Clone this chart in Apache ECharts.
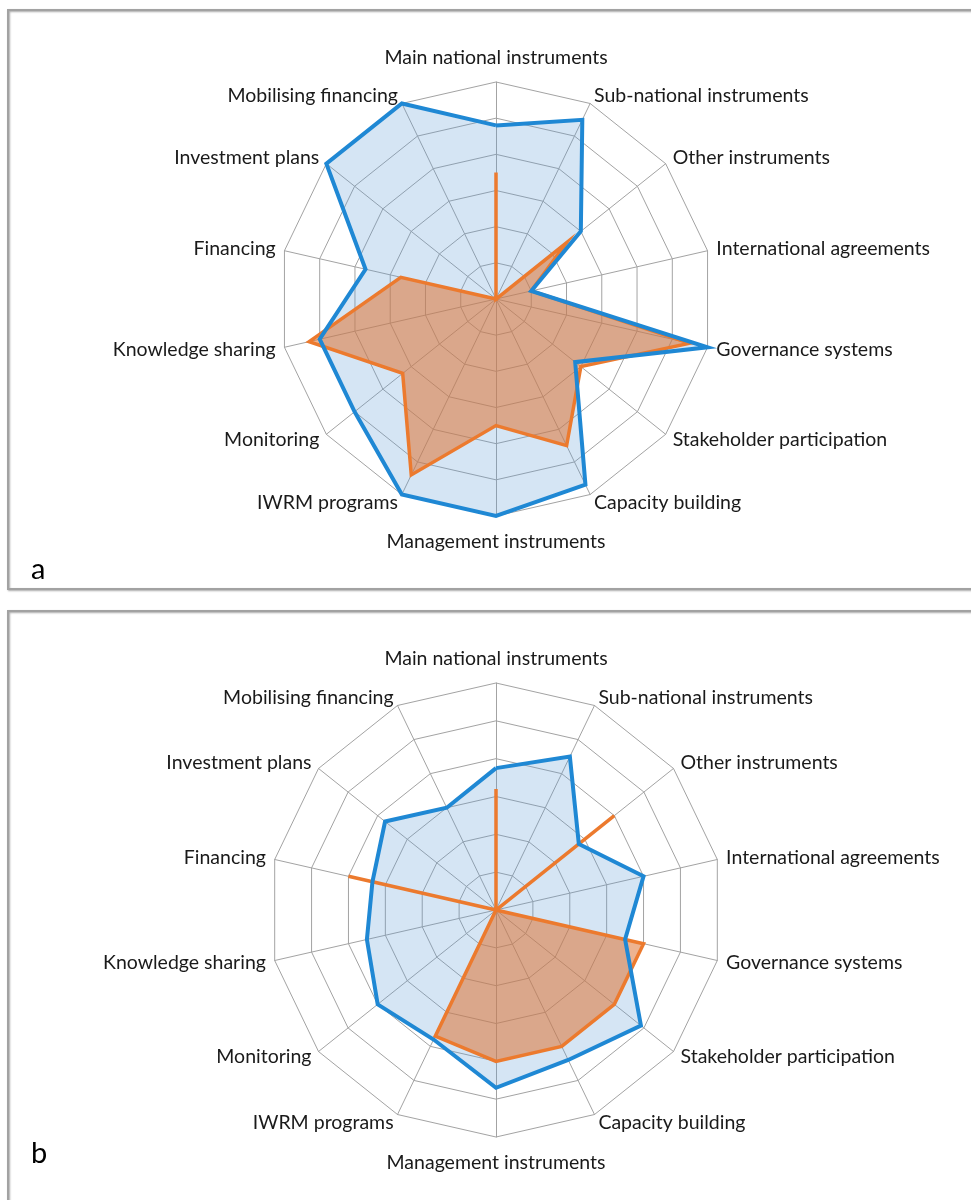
<!DOCTYPE html>
<html>
<head>
<meta charset="utf-8">
<script src="https://cdn.jsdelivr.net/npm/echarts@6/dist/echarts.min.js"></script>
<style>
  html, body { margin: 0; padding: 0; background: #ffffff; }
  #chart { width: 971px; height: 1200px; }
</style>
</head>
<body>
<div id="chart"></div>
<script>
// Indicators in clockwise order, starting at the top
const indicators = [
  'Main national instruments', 'Sub-national instruments', 'Other instruments',
  'International agreements', 'Governance systems', 'Stakeholder participation',
  'Capacity building', 'Management instruments', 'IWRM programs', 'Monitoring',
  'Knowledge sharing', 'Financing', 'Investment plans', 'Mobilising financing'
];
const scaleMax = 6;

// Panel a
const blueA   = [4.8, 5.5, 3.0, 1.0, 6.0, 2.8, 5.7, 6.0, 6.0, 5.0, 5.0, 3.7, 6.0, 6.0];
const orangeA = [3.5, 0,   2.5, 1.0, 5.5, 3.0, 4.5, 3.5, 5.4, 3.3, 5.3, 2.7, 0,   0];

// Panel b
const blueB   = [3.75, 4.5, 2.8, 4.0, 3.5, 4.9, 4.4, 4.7, 3.8, 4.0, 3.5, 3.35, 3.75, 3.0];
const orangeB = [3.2,  0,   4.0, 0,   4.0, 4.0, 4.0, 4.0, 3.7, 0,   0,   4.0,  0,    0];

const panelLetters = ['a', 'b'];

// ECharts lays radar indicators out counter-clockwise, so reverse all but the first
const order = [0].concat(indicators.map((_, i) => i).slice(1).reverse());
const reorder = arr => order.map(i => arr[i]);

const BLUE = '#1f88d4';
const ORANGE = '#ec7a2e';
const GRID = '#a3a3a3';

function radarDef(center, radius) {
  return {
    center: center,
    radius: radius,
    startAngle: 90,
    shape: 'polygon',
    splitNumber: 6,
    indicator: reorder(indicators).map(n => ({ name: n, max: scaleMax, min: 0 })),
    nameGap: 9,
    axisName: {
      color: '#1a1a1a',
      fontFamily: 'Lato',
      fontSize: 19.5,
      padding: [7, 0, 5, 0]
    },
    splitLine: { lineStyle: { color: GRID, width: 1 } },
    splitArea: { show: false },
    axisLine: { lineStyle: { color: GRID, width: 1 } },
    axisTick: { show: false },
    axisLabel: { show: false }
  };
}

function seriesFor(radarIndex, blue, orange) {
  const base = { type: 'radar', radarIndex: radarIndex, symbol: 'none', silent: true };
  return [
    Object.assign({}, base, {
      data: [{ value: reorder(blue) }],
      lineStyle: { width: 0, opacity: 0 },
      areaStyle: { color: 'rgba(91,155,213,0.26)', opacity: 1 }
    }),
    Object.assign({}, base, {
      data: [{ value: reorder(orange) }],
      lineStyle: { width: 0, opacity: 0 },
      areaStyle: { color: 'rgba(222,116,52,0.55)', opacity: 1 }
    }),
    Object.assign({}, base, {
      data: [{ value: reorder(orange) }],
      lineStyle: { color: ORANGE, width: 3.5, join: 'miter', miterLimit: 20 }
    }),
    Object.assign({}, base, {
      data: [{ value: reorder(blue) }],
      lineStyle: { color: BLUE, width: 4, join: 'miter', miterLimit: 20 }
    })
  ];
}

const panelBox = (y, h) => ({
  type: 'rect',
  shape: { x: 8, y: y, width: 1000, height: h },
  style: {
    fill: 'none', stroke: '#a2a2a2', lineWidth: 2,
    shadowColor: 'rgba(0,0,0,0.35)', shadowBlur: 2, shadowOffsetX: 1, shadowOffsetY: 1
  },
  z: 0
});

const chart = echarts.init(document.getElementById('chart'), null, { renderer: 'canvas' });
chart.setOption({
  animation: false,
  backgroundColor: '#ffffff',
  radar: [
    radarDef([496, 299], 217),
    radarDef([496, 910], 227)
  ],
  series: [].concat(seriesFor(0, blueA, orangeA), seriesFor(1, blueB, orangeB)),
  graphic: [
    panelBox(10, 579),
    panelBox(611, 700),
    {
      type: 'text', left: 31, top: 555, z: 10,
      style: { text: panelLetters[0], font: '29px Lato', fill: '#000000' }
    },
    {
      type: 'text', left: 31, top: 1139, z: 10,
      style: { text: panelLetters[1], font: '29px Lato', fill: '#000000' }
    }
  ]
});
</script>
</body>
</html>
